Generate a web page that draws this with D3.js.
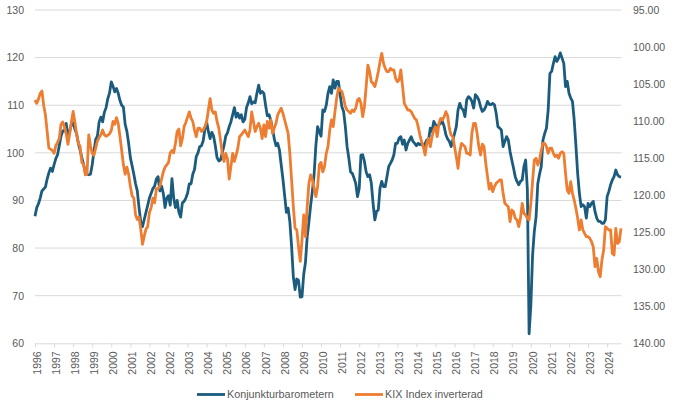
<!DOCTYPE html>
<html>
<head>
<meta charset="utf-8">
<script src="https://cdn.jsdelivr.net/npm/d3@7"></script>
<style>
  body { margin: 0; background: #fff; }
  svg { display: block; }
</style>
</head>
<body>
<svg id="chart" width="674" height="412"></svg>
<script>
// monthly data, first value = July 1996
const konj = [
  86.7, 88.5, 89.3, 90.5, 92.0, 92.4, 92.8, 94.5, 95.8, 96.8, 96.1, 97.5,
  98.8, 99.6, 101.5, 103.5, 104.6, 104.6, 106.2, 103.5, 104.5, 106.0, 106.3, 105.0,
  104.0, 102.0, 100.6, 99.0, 97.6, 96.0, 95.5, 95.4, 95.5, 97.5, 100.3, 102.8,
  103.5, 106.5, 107.5, 106.5, 108.5, 109.5, 111.4, 112.6, 114.9, 114.0, 112.8, 113.5,
  112.5, 111.0, 110.0, 109.6, 106.0, 104.5, 102.0, 99.0, 97.3, 95.5, 93.5, 92.0,
  88.5, 85.5, 84.5, 86.0, 87.5, 89.0, 90.5, 91.5, 92.5, 93.0, 94.5, 95.0,
  92.0, 93.0, 91.5, 88.5, 90.5, 91.0, 89.0, 94.6, 90.5, 88.5, 90.0, 87.5,
  86.5, 89.5, 89.8, 90.5, 91.5, 93.5, 93.5, 95.5, 96.5, 99.2, 100.0, 101.3,
  101.5, 102.5, 105.0, 106.5, 104.5, 103.0, 104.3, 103.5, 101.5, 99.0, 98.3, 98.5,
  100.0, 101.5, 103.5, 104.2, 105.5, 106.5, 108.0, 109.5, 107.5, 108.3, 107.3, 108.0,
  106.5, 107.0, 109.5, 110.5, 111.8, 110.3, 110.7, 110.5, 112.5, 114.2, 112.5, 112.9,
  112.5, 110.0, 107.8, 108.0, 106.8, 105.0, 103.0, 101.5, 102.0, 100.6, 97.5, 94.5,
  91.0, 87.5, 88.4, 85.5, 80.3, 74.0, 71.3, 73.5, 73.2, 69.7, 69.8, 74.5,
  77.0, 82.4, 85.5, 89.0, 92.0, 95.5, 101.5, 105.5, 104.5, 103.5, 109.0, 108.7,
  110.0, 112.5, 113.9, 112.5, 115.3, 113.6, 115.0, 115.0, 112.2, 109.7, 108.7, 105.5,
  101.3, 98.9, 96.0, 95.7, 94.7, 93.6, 90.8, 92.5, 99.5, 99.6, 98.2, 96.0,
  95.0, 95.4, 93.6, 89.4, 85.9, 87.7, 88.0, 92.6, 94.0, 92.9, 92.9, 95.0,
  97.1, 97.8, 98.5, 99.6, 102.0, 102.0, 103.1, 103.4, 101.8, 102.7, 100.6, 102.0,
  102.7, 103.4, 102.4, 102.0, 101.5, 102.0, 101.7, 102.0, 101.3, 102.0, 102.7, 102.7,
  105.2, 104.5, 106.6, 105.9, 105.2, 105.9, 106.2, 106.6, 105.5, 103.8, 102.9, 102.4,
  101.3, 102.7, 104.1, 105.5, 109.0, 110.4, 109.4, 109.0, 107.6, 111.1, 111.8, 111.5,
  110.8, 109.4, 112.2, 111.8, 111.1, 109.7, 108.7, 109.0, 109.7, 110.8, 110.2, 110.1,
  110.4, 110.1, 108.3, 105.5, 105.2, 104.8, 101.3, 102.4, 103.4, 102.7, 100.3, 98.5,
  96.8, 95.0, 94.0, 93.3, 94.0, 94.3, 97.1, 98.5, 92.2, 62.0, 68.0, 78.5,
  83.5, 86.5, 93.5, 95.5, 97.1, 102.7, 104.1, 105.2, 109.0, 116.7, 117.1, 118.8,
  120.2, 119.2, 119.9, 121.0, 119.9, 118.8, 113.9, 115.0, 112.5, 111.5, 110.8, 106.9,
  101.5, 95.7, 91.5, 88.7, 89.1, 88.7, 86.3, 89.4, 88.7, 89.4, 89.8, 87.7,
  86.3, 85.6, 85.6, 85.2, 85.2, 85.9, 90.8, 91.9, 93.3, 94.3, 95.0, 96.4,
  95.4, 95.0, 94.9
];

const kix = [
  107.15, 107.60, 107.03, 106.25, 105.93, 107.86, 109.15, 111.40, 113.65, 113.78, 113.97, 114.35,
  113.33, 112.88, 112.36, 110.43, 110.11, 110.75, 111.72, 113.13, 111.72, 110.11, 108.70, 110.11,
  111.78, 113.00, 113.39, 115.58, 115.83, 117.25, 117.18, 111.85, 113.33, 114.35, 114.61, 113.65,
  112.68, 112.23, 111.85, 111.20, 111.85, 112.04, 111.91, 111.72, 111.27, 110.05, 110.43, 109.53,
  110.30, 112.04, 113.97, 115.90, 117.18, 116.22, 117.18, 118.79, 120.08, 120.40, 122.65, 123.29,
  122.97, 124.58, 126.63, 125.54, 124.58, 124.25, 122.33, 121.68, 120.40, 121.04, 119.11, 119.11,
  118.79, 117.83, 116.86, 116.22, 115.90, 115.58, 114.29, 113.97, 114.29, 113.00, 111.40, 111.08,
  113.33, 112.36, 110.75, 110.18, 109.47, 108.76, 109.60, 110.05, 111.20, 112.10, 110.95, 110.95,
  111.40, 111.20, 110.75, 110.11, 108.50, 106.96, 108.50, 108.95, 108.76, 110.05, 110.95, 112.55,
  114.35, 115.45, 114.35, 115.06, 117.83, 116.15, 114.35, 115.45, 114.61, 113.65, 112.10, 111.85,
  111.53, 111.20, 111.65, 112.10, 111.20, 108.76, 110.05, 111.40, 110.75, 110.30, 110.95, 112.36,
  110.50, 112.10, 110.05, 110.95, 109.85, 111.65, 110.95, 110.30, 109.15, 108.70, 108.25, 108.95,
  109.85, 110.75, 111.65, 114.35, 117.95, 121.55, 124.45, 124.70, 126.96, 128.95, 126.06, 122.65,
  125.61, 121.55, 118.40, 117.25, 117.95, 119.05, 120.20, 118.85, 115.90, 115.58, 116.86, 116.15,
  114.35, 113.45, 111.20, 109.85, 110.75, 108.76, 106.90, 105.55, 105.80, 106.00, 106.90, 108.05,
  108.50, 108.70, 108.95, 108.50, 108.70, 108.25, 107.15, 106.93, 107.60, 109.40, 108.05, 105.35,
  102.43, 103.33, 104.68, 104.90, 105.35, 104.45, 103.33, 101.98, 100.85, 102.20, 102.88, 103.33,
  103.33, 102.88, 103.10, 103.10, 104.23, 104.68, 104.45, 103.10, 105.29, 107.60, 108.05, 108.50,
  108.50, 108.73, 109.18, 109.63, 109.85, 110.75, 111.88, 112.78, 113.45, 114.58, 113.00, 112.33,
  113.45, 112.10, 111.20, 110.75, 112.10, 110.30, 109.63, 109.85, 109.40, 108.73, 109.28, 110.98,
  111.88, 112.10, 113.45, 114.80, 116.38, 114.13, 113.00, 113.23, 113.45, 114.35, 114.35, 114.58,
  111.65, 110.30, 110.30, 111.65, 113.45, 114.58, 113.10, 113.45, 115.70, 117.50, 119.18, 118.40,
  119.53, 118.85, 118.40, 118.18, 117.95, 117.95, 119.75, 121.10, 121.33, 121.55, 123.58, 122.00,
  122.23, 123.13, 123.35, 124.25, 123.13, 121.10, 122.45, 122.68, 123.13, 123.35, 121.10, 118.15,
  115.25, 115.03, 115.93, 115.25, 113.90, 113.00, 113.00, 113.45, 114.35, 113.65, 113.65, 114.35,
  114.80, 114.58, 115.03, 114.35, 114.13, 114.35, 117.05, 119.30, 119.75, 118.18, 119.75, 120.65,
  121.81, 123.13, 124.70, 123.35, 124.70, 125.15, 125.61, 125.61, 125.83, 126.28, 126.96, 129.66,
  128.53, 130.33, 131.01, 128.76, 127.41, 124.25, 124.48, 124.70, 124.70, 127.86, 128.08, 124.48,
  126.51, 126.28, 124.48
];

const leftTicks = [60, 70, 80, 90, 100, 110, 120, 130];
const rightTicks = [95, 100, 105, 110, 115, 120, 125, 130, 135, 140];
// a label every 11th month, as in the original
const yearLabels = [
  "1996", "1997", "1998", "1999", "2000", "2001", "2002", "2002", "2003", "2004", "2005",
  "2006", "2007", "2008", "2009", "2010", "2011", "2012", "2013", "2013", "2014", "2015",
  "2016", "2017", "2018", "2019", "2020", "2021", "2022", "2023", "2024"
];
const labelStep = 11;

const seriesNames = ["Konjunkturbarometern", "KIX Index inverterad"];
const colors = ["#1b5c7e", "#ed7d31"];

const font = '"Liberation Sans", Arial, sans-serif';
const textColor = "#595959";
const gridColor = "#d9d9d9";
const lineW = 2.8;

const plot = { left: 35, right: 621, top: 10, bottom: 343.3 };

const svg = d3.select("#chart");

const x = d3.scaleLinear().domain([0, konj.length - 1]).range([plot.left, plot.right]);
const yLeft = d3.scaleLinear().domain([60, 130]).range([plot.bottom, plot.top]);
const yRight = d3.scaleLinear().domain([95, 140]).range([plot.top, plot.bottom]);

//gridlines
svg.append("g")
  .selectAll("line")
  .data(leftTicks.filter((d) => d !== 60))
  .join("line")
  .attr("x1", plot.left)
  .attr("x2", plot.right + 0.5)
  .attr("y1", (d) => yLeft(d))
  .attr("y2", (d) => yLeft(d))
  .attr("stroke", gridColor)
  .attr("stroke-width", 1);

//axes
const styleAxis = (g) => {
  g.attr("font-family", font).attr("font-size", 10.5);
  g.selectAll("text").attr("fill", textColor);
};

svg.append("g")
  .attr("transform", `translate(${plot.left},0)`)
  .call(d3.axisLeft(yLeft).tickValues(leftTicks).tickSize(0).tickPadding(11))
  .call(styleAxis)
  .call((g) => g.select(".domain").remove());

svg.append("g")
  .attr("transform", `translate(${plot.right},0)`)
  .call(
    d3.axisRight(yRight)
      .tickValues(rightTicks)
      .tickSize(0)
      .tickPadding(12)
      .tickFormat(d3.format(".2f"))
  )
  .call(styleAxis)
  .call((g) => g.select(".domain").remove());

const xAxis = svg.append("g")
  .attr("transform", `translate(0,${plot.bottom})`)
  .call(
    d3.axisBottom(x)
      .tickValues(yearLabels.map((d, i) => i * labelStep))
      .tickFormat((d, i) => yearLabels[i])
      .tickSize(4)
      .tickSizeOuter(0)
  )
  .call(styleAxis);
xAxis.select(".domain").attr("stroke", gridColor).attr("d", `M${plot.left},0.5H${plot.right + 0.5}`);
xAxis.selectAll(".tick line").attr("stroke", gridColor);
xAxis.selectAll(".tick text")
  .attr("transform", "rotate(-90)")
  .attr("text-anchor", "end")
  .attr("x", -8)
  .attr("y", 1.5)
  .attr("dy", "0.35em");

//lines
const line = (scale) =>
  d3.line()
    .x((d, i) => x(i))
    .y((d) => scale(d));

svg.append("path")
  .datum(konj)
  .attr("fill", "none")
  .attr("stroke", colors[0])
  .attr("stroke-width", lineW)
  .attr("stroke-linejoin", "round")
  .attr("d", line(yLeft));

svg.append("path")
  .datum(kix)
  .attr("fill", "none")
  .attr("stroke", colors[1])
  .attr("stroke-width", lineW)
  .attr("stroke-linejoin", "round")
  .attr("d", line(yRight));

//legend
const legendX = [197, 355];
const legend = svg.append("g")
  .attr("transform", "translate(0,394.5)")
  .selectAll("g")
  .data(seriesNames)
  .join("g")
  .attr("transform", (d, i) => `translate(${legendX[i]},0)`);
legend.append("line")
  .attr("x1", 0)
  .attr("x2", 28)
  .attr("stroke", (d, i) => colors[i])
  .attr("stroke-width", lineW);
legend.append("text")
  .attr("x", 30)
  .attr("dy", "0.35em")
  .attr("font-family", font)
  .attr("font-size", 10.8)
  .attr("fill", textColor)
  .text((d) => d);
</script>
</body>
</html>
